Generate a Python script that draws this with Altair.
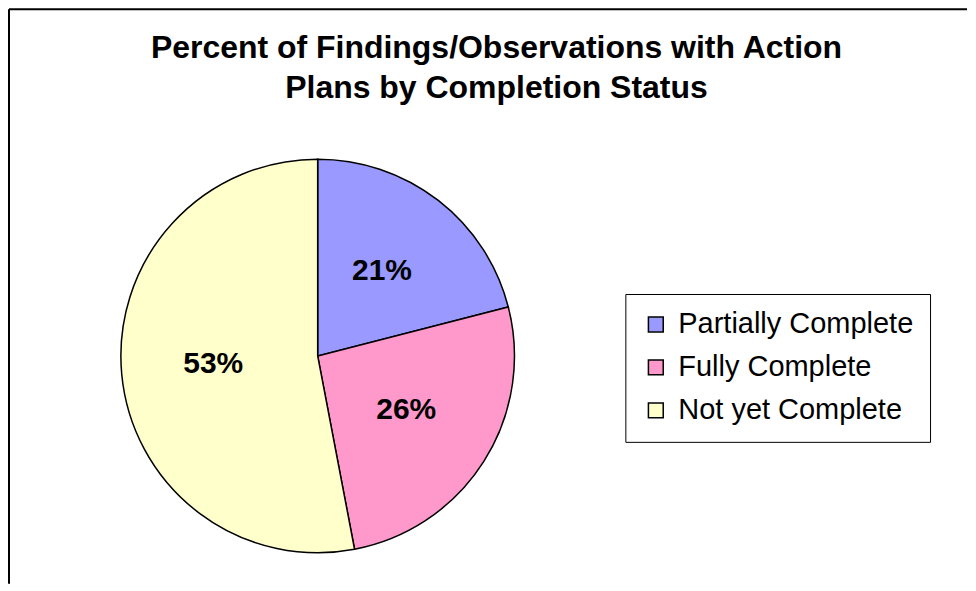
import altair as alt
import pandas as pd

categories = ["Partially Complete", "Fully Complete", "Not yet Complete"]
percents = [21, 26, 53]
colors = ["#9999FF", "#FF99CC", "#FFFFCC"]
title_lines = ["Percent of Findings/Observations with Action", "Plans by Completion Status"]

df = pd.DataFrame({
    "status": categories,
    "pct": percents,
    "order": list(range(len(categories))),
})
df["label"] = df["pct"].astype(str) + "%"

W, H = 960, 575
FONT = "Liberation Sans"

base = alt.Chart(df)

pie = base.mark_arc(
    outerRadius=197, stroke="black", strokeWidth=1.5
).encode(
    theta=alt.Theta("pct:Q", stack=True),
    order=alt.Order("order:Q"),
    color=alt.Color(
        "status:N",
        sort=categories,
        scale=alt.Scale(domain=categories, range=colors),
        legend=alt.Legend(
            title=None,
            orient="none",
            legendX=618,
            legendY=285,
            strokeColor="black",
            padding=16,
            symbolType="square",
            symbolSize=220,
            symbolStrokeColor="black",
            symbolStrokeWidth=1.5,
            symbolOpacity=1,
            labelFont=FONT,
            labelFontSize=29,
            labelColor="black",
            labelOffset=8,
            rowPadding=13,
            labelLimit=400,
        ),
    ),
    x=alt.value(310),
    y=alt.value(347),
)

labels = base.mark_text(
    radius=105, font=FONT, fontSize=30, fontWeight="bold", color="black",
    align="center", baseline="middle",
).encode(
    theta=alt.Theta("pct:Q", stack=True),
    order=alt.Order("order:Q"),
    text="label:N",
    x=alt.value(310),
    y=alt.value(345),
)

title = alt.Chart(pd.DataFrame({"t": ["\n".join(title_lines)]})).mark_text(
    font=FONT, fontSize=32, fontWeight="bold", color="black",
    align="center", baseline="alphabetic", lineBreak="\n", lineHeight=40,
).encode(
    text="t:N",
    x=alt.value(489),
    y=alt.value(49),
)

left_border = alt.Chart(pd.DataFrame({"a": [0]})).mark_rule(
    color="black", strokeWidth=2
).encode(x=alt.value(1), y=alt.value(0), y2=alt.value(H))

top_border = alt.Chart(pd.DataFrame({"a": [0]})).mark_rule(
    color="black", strokeWidth=2
).encode(y=alt.value(0), x=alt.value(1), x2=alt.value(W))

chart = alt.layer(left_border, top_border, pie, labels, title).properties(
    width=W, height=H, padding=0
).configure_view(stroke=None)

chart.save("out.html", embed_options={"renderer": "svg", "actions": False})
